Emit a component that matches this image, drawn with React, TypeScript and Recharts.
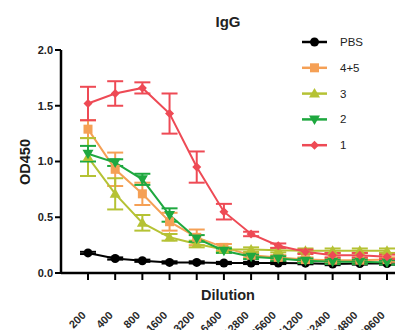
import React from 'react';
import { LineChart, Line, XAxis, YAxis, ErrorBar } from 'recharts';

const dilutions = ['200', '400', '800', '1600', '3200', '6400', '12800', '25600', '51200', '102400', '204800', '409600'];

const pbs = [0.18, 0.13, 0.11, 0.095, 0.095, 0.09, 0.09, 0.09, 0.088, 0.08, 0.085, 0.085];
const pbsErr = [0.01, 0.01, 0.01, 0.01, 0.01, 0.01, 0.01, 0.01, 0.01, 0.01, 0.01, 0.01];

const s45 = [1.29, 0.93, 0.71, 0.46, 0.32, 0.23, 0.16, 0.14, 0.12, 0.115, 0.115, 0.12];
const s45Err = [0.08, 0.15, 0.1, 0.08, 0.07, 0.03, 0.02, 0.02, 0.02, 0.02, 0.02, 0.02];

const s3 = [1.04, 0.71, 0.45, 0.32, 0.26, 0.21, 0.21, 0.205, 0.2, 0.2, 0.2, 0.2];
const s3Err = [0.17, 0.14, 0.07, 0.03, 0.03, 0.02, 0.02, 0.02, 0.02, 0.02, 0.02, 0.02];

const s2 = [1.07, 0.99, 0.84, 0.52, 0.31, 0.2, 0.145, 0.13, 0.11, 0.1, 0.1, 0.095];
const s2Err = [0.07, 0.03, 0.05, 0.06, 0.03, 0.02, 0.02, 0.02, 0.02, 0.02, 0.02, 0.02];

const s1 = [1.52, 1.61, 1.66, 1.43, 0.95, 0.55, 0.35, 0.245, 0.19, 0.16, 0.16, 0.145];
const s1Err = [0.15, 0.11, 0.05, 0.18, 0.14, 0.07, 0.02, 0.02, 0.02, 0.02, 0.02, 0.02];

const yTicks = [0, 0.5, 1.0, 1.5, 2.0];

const data = dilutions.map((d, i) => ({
  dil: d,
  pbs: pbs[i], pbsE: pbsErr[i],
  s45: s45[i], s45E: s45Err[i],
  s3: s3[i], s3E: s3Err[i],
  s2: s2[i], s2E: s2Err[i],
  s1: s1[i], s1E: s1Err[i],
}));

const FONT = '"Liberation Sans", Arial, Helvetica, sans-serif';

type Shape = 'circle' | 'square' | 'tri' | 'tridown' | 'diamond';

const series: { key: string; name: string; color: string; shape: Shape }[] = [
  { key: 'pbs', name: 'PBS', color: '#000000', shape: 'circle' },
  { key: 's45', name: '4+5', color: '#f5a055', shape: 'square' },
  { key: 's3', name: '3', color: '#b5c234', shape: 'tri' },
  { key: 's2', name: '2', color: '#1ea83f', shape: 'tridown' },
  { key: 's1', name: '1', color: '#ee4a55', shape: 'diamond' },
];

function Marker({ shape, cx, cy, color }: { shape: Shape; cx: number; cy: number; color: string }) {
  if (cx == null || cy == null || isNaN(cx) || isNaN(cy)) return null;
  switch (shape) {
    case 'circle':
      return <circle cx={cx} cy={cy} r={4.5} fill={color} />;
    case 'square':
      return <rect x={cx - 4.5} y={cy - 4.5} width={9} height={9} fill={color} />;
    case 'tri':
      return <polygon points={`${cx},${cy - 5.5} ${cx + 5.5},${cy + 4} ${cx - 5.5},${cy + 4}`} fill={color} />;
    case 'tridown':
      return <polygon points={`${cx},${cy + 5.5} ${cx + 5.5},${cy - 4} ${cx - 5.5},${cy - 4}`} fill={color} />;
    case 'diamond':
      return <polygon points={`${cx},${cy - 4.5} ${cx + 4.5},${cy} ${cx},${cy + 4.5} ${cx - 4.5},${cy}`} fill={color} />;
  }
  return null;
}

const XTick = (props: any) => {
  const { x, payload } = props;
  const tx = x - 1.5;
  const ty = 316;
  return (
    <text
      x={tx}
      y={ty}
      transform={`rotate(-45, ${tx}, ${ty})`}
      textAnchor="end"
      fontSize={11}
      fontWeight={700}
      fontFamily={FONT}
      fill="#2a2a2a"
    >
      {payload.value}
    </text>
  );
};

export default function App() {
  return (
    <div style={{ position: 'absolute', left: 0, top: 0, width: 395, height: 330, background: '#fff' }}>
      <LineChart width={395} height={330} data={data} margin={{ top: 50, right: 0, bottom: 0, left: 0 }}>
        <XAxis
          dataKey="dil"
          height={57}
          padding={{ left: 27, right: 8 }}
          interval={0}
          tickSize={7}
          axisLine={{ stroke: '#000', strokeWidth: 2.5 }}
          tickLine={{ stroke: '#000', strokeWidth: 2 }}
          tick={<XTick />}
        />
        <YAxis
          width={61}
          domain={[0, 2]}
          ticks={yTicks}
          tickFormatter={(v: number) => v.toFixed(1)}
          tickSize={6}
          axisLine={{ stroke: '#000', strokeWidth: 2.5 }}
          tickLine={{ stroke: '#000', strokeWidth: 2 }}
          tick={{ fontSize: 11, fontWeight: 700, fill: '#222', fontFamily: FONT }}
        />
        {series.map((s) => (
          <Line
            key={s.key}
            dataKey={s.key}
            stroke={s.color}
            strokeWidth={2}
            isAnimationActive={false}
            dot={(p: any) => <Marker key={`${s.key}-${p.index}`} shape={s.shape} cx={p.cx} cy={p.cy} color={s.color} />}
            activeDot={false}
          >
            <ErrorBar dataKey={`${s.key}E`} width={8} strokeWidth={2} stroke={s.color} direction="y" isAnimationActive={false} />
          </Line>
        ))}
      </LineChart>
      <svg width={395} height={330} style={{ position: 'absolute', left: 0, top: 0, pointerEvents: 'none' }}>
        <text x={228} y={27} textAnchor="middle" fontSize={15} fontWeight={700} fontFamily={FONT} fill="#222">IgG</text>
        <text
          x={30}
          y={162}
          transform="rotate(-90, 30, 162)"
          textAnchor="middle"
          fontSize={14.5}
          fontWeight={700}
          fontFamily={FONT}
          fill="#1a1a1a"
        >
          OD450
        </text>
        <text x={228} y={300} textAnchor="middle" fontSize={14.5} fontWeight={700} fontFamily={FONT} fill="#222">Dilution</text>
        {series.map((s, i) => {
          const cy = 42 + i * 25.8;
          return (
            <g key={s.key}>
              <line x1={302} x2={327} y1={cy} y2={cy} stroke={s.color} strokeWidth={2.5} />
              <Marker shape={s.shape} cx={314.5} cy={cy} color={s.color} />
              <text x={340} y={cy + 4} fontSize={11.5} fontFamily={FONT} fill="#222">{s.name}</text>
            </g>
          );
        })}
      </svg>
    </div>
  );
}
